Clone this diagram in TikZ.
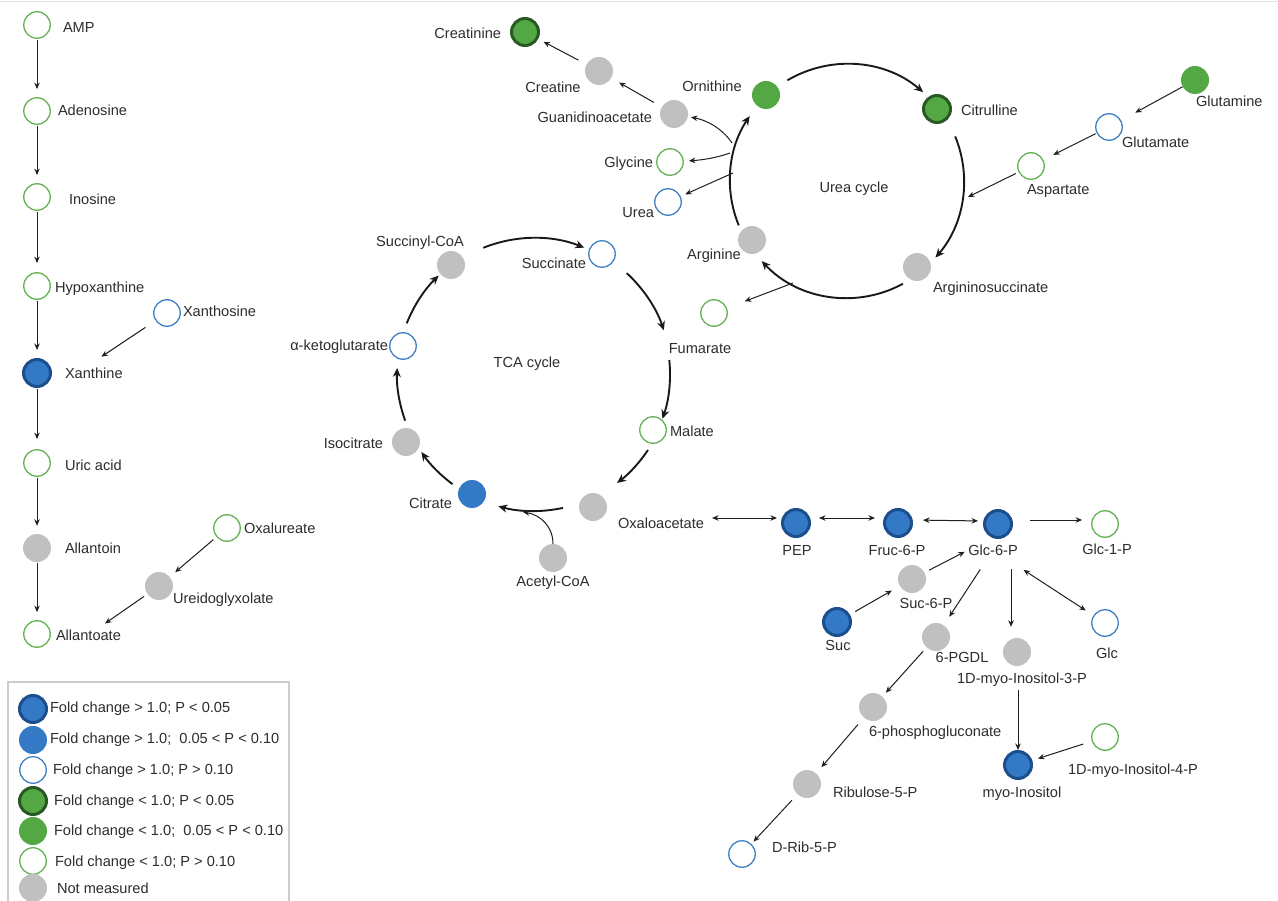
\documentclass[tikz,border=0pt]{standalone}
\usepackage{fontspec}
\setmainfont{Liberation Sans}
\usetikzlibrary{arrows.meta,calc}
\definecolor{dkblue}{RGB}{27,78,140}
\definecolor{mblue}{RGB}{52,121,198}
\definecolor{lblue}{RGB}{62,128,194}
\definecolor{dkgreen}{RGB}{42,88,36}
\definecolor{mgreen}{RGB}{84,168,68}
\definecolor{lgreen}{RGB}{98,178,82}
\definecolor{nmgray}{RGB}{192,192,192}
\definecolor{txt}{RGB}{45,45,45}
\definecolor{legbox}{RGB}{204,204,204}
\begin{document}
\begin{tikzpicture}[x=1pt,y=1pt,
  met/.style={circle,inner sep=0pt},
  upS/.style={met,draw=dkblue,fill=mblue,line width=3pt,minimum size=27pt},
  upM/.style={met,fill=mblue,minimum size=28pt},
  upN/.style={met,draw=lblue,fill=white,line width=1.3pt,minimum size=26.5pt},
  dnS/.style={met,draw=dkgreen,fill=mgreen,line width=3pt,minimum size=27pt},
  dnM/.style={met,fill=mgreen,minimum size=28pt},
  dnN/.style={met,draw=lgreen,fill=white,line width=1.3pt,minimum size=26.5pt},
  nm/.style={met,fill=nmgray,minimum size=28pt},
  lbl/.style={text=txt,font=\fontsize{14.6}{17}\selectfont,inner sep=0pt,outer sep=0pt,text height=10.4pt,text depth=0pt},
  arr/.style={draw=black!88,line width=1pt,-{Stealth[length=6.5pt,width=5.5pt]}},
  darr/.style={draw=black!88,line width=1pt,{Stealth[length=6.5pt,width=5.5pt]}-{Stealth[length=6.5pt,width=5.5pt]}},
  cyc/.style={draw=black!90,line width=1.9pt,-{Stealth[length=9pt,width=8pt]}},
]
\useasboundingbox (0,0) rectangle (1278,-901);
\fill[white] (0,0) rectangle (1278,-901);
\draw[black!12,line width=1.5pt] (0,-1.5) -- (1278,-1.5);

% ---------- left column ----------
\node[dnN] (amp) at (37,-25) {};
\node[lbl,anchor=west] (ampL) at (63,-27) {AMP};
\node[dnN] (ade) at (37,-111) {};
\node[lbl,anchor=west] (adeL) at (58,-110) {Adenosine};
\node[dnN] (ino) at (37,-197) {};
\node[lbl,anchor=west] (inoL) at (69,-199) {Inosine};
\node[dnN] (hyp) at (37,-286) {};
\node[lbl,anchor=west] (hypL) at (55,-287) {Hypoxanthine};
\node[upN] (xao) at (167,-313) {};
\node[lbl,anchor=west] (xaoL) at (183,-311) {Xanthosine};
\node[upS] (xan) at (37,-373) {};
\node[lbl,anchor=west] (xanL) at (65,-373) {Xanthine};
\node[dnN] (uric) at (37,-463) {};
\node[lbl,anchor=west] (uricL) at (65,-465) {Uric acid};
\node[nm] (aln) at (37,-548) {};
\node[lbl,anchor=west] (alnL) at (65,-548) {Allantoin};
\node[dnN] (oxu) at (227,-528) {};
\node[lbl,anchor=west] (oxuL) at (244,-528) {Oxalureate};
\node[nm] (ure) at (159,-586) {};
\node[lbl,anchor=west] (ureL) at (173,-598) {Ureidoglyxolate};
\node[dnN] (alt) at (37,-634) {};
\node[lbl,anchor=west] (altL) at (56,-635) {Allantoate};

\draw[arr,shorten <=1pt,shorten >=8pt] (amp) -- (ade);
\draw[arr,shorten <=1pt,shorten >=8pt] (ade) -- (ino);
\draw[arr,shorten <=1pt,shorten >=9pt] (ino) -- (hyp);
\draw[arr,shorten <=1pt,shorten >=8pt] (hyp) -- (xan);
\draw[arr,shorten <=1pt,shorten >=10pt] (xan) -- (uric);
\draw[arr,shorten <=1pt,shorten >=8pt] (uric) -- (aln);
\draw[arr,shorten <=1pt,shorten >=8pt] (aln) -- (alt);
\draw[arr,shorten <=12pt,shorten >=20pt] (xao) -- (xanL.150);
\draw[arr,shorten <=4pt,shorten >=7pt] (oxu) -- (ure);
\draw[arr,shorten <=4pt,shorten >=11pt] (ure) -- (altL);

% ---------- TCA cycle ----------
\coordinate (tca) at (534,-374);
\node[nm] (sca) at (451,-265) {};
\node[lbl] (scaL) at (420,-241) {Succinyl-CoA};
\node[upN] (suc) at (602,-254) {};
\node[lbl,anchor=east] (sucL) at (586,-263) {Succinate};
\node[dnN] (fum) at (714,-313) {};
\node[lbl] (fumL) at (700,-348) {Fumarate};
\node[dnN] (mal) at (653,-430) {};
\node[lbl,anchor=west] (malL) at (670,-431) {Malate};
\node[nm] (oxa) at (593,-507) {};
\node[lbl,anchor=west] (oxaL) at (618,-523) {Oxaloacetate};
\node[nm] (acc) at (553,-558) {};
\node[lbl] (accL) at (553,-581) {Acetyl-CoA};
\node[upM] (cit) at (472,-494) {};
\node[lbl,anchor=east] (citL) at (452,-503) {Citrate};
\node[nm] (ici) at (406,-442) {};
\node[lbl,anchor=east] (iciL) at (383,-443) {Isocitrate};
\node[upN] (akg) at (403,-346) {};
\node[lbl,anchor=east] (akgL) at (388,-345) {α-ketoglutarate};
\node[lbl] (tcaL) at (527,-362) {TCA cycle};

\draw[cyc] ($(tca)+(111.9:136)$) arc[start angle=111.9,end angle=68.3,radius=136];
\draw[cyc] ($(tca)+(47.4:137)$) arc[start angle=47.4,end angle=18.6,radius=137];
\draw[cyc] ($(tca)+(5.9:136)$) arc[start angle=5.9,end angle=-19.2,radius=136];
\draw[cyc] ($(tca)+(-33.7:137)$) arc[start angle=-33.7,end angle=-52.7,radius=137];
\draw[cyc] ($(tca)+(-77.8:137)$) arc[start angle=-77.8,end angle=-105.1,radius=137];
\draw[cyc] ($(tca)+(-126.5:137)$) arc[start angle=-126.5,end angle=-145.3,radius=137];
\draw[cyc] ($(tca)+(199.9:137)$) arc[start angle=199.9,end angle=177.5,radius=137];
\draw[cyc] ($(tca)+(158.3:137)$) arc[start angle=158.3,end angle=134.1,radius=137];
\coordinate (accT) at (523,-512);
\draw[arr] (acc) .. controls (553,-527) and (541,-515) .. (accT);

% ---------- Urea cycle ----------
\coordinate (uc) at (847,-181);
\node[dnM] (orn) at (766,-95) {};
\node[lbl] (ornL) at (712,-86) {Ornithine};
\node[dnS] (ctl) at (937,-109) {};
\node[lbl,anchor=west] (ctlL) at (961,-110) {Citrulline};
\node[nm] (asu) at (917,-267) {};
\node[lbl,anchor=west] (asuL) at (933,-287) {Argininosuccinate};
\node[nm] (arg) at (752,-240) {};
\node[lbl] (argL) at (714,-254) {Arginine};
\node[lbl] (ucL) at (854,-187) {Urea cycle};
\node[dnM] (gln) at (1195,-80) {};
\node[lbl,anchor=west] (glnL) at (1196,-101) {Glutamine};
\node[upN] (glu) at (1109,-127) {};
\node[lbl,anchor=west] (gluL) at (1122,-142) {Glutamate};
\node[dnN] (asp) at (1031,-166) {};
\node[lbl,anchor=west] (aspL) at (1027,-189) {Aspartate};
\node[nm] (gaa) at (674,-114) {};
\node[lbl,anchor=east] (gaaL) at (652,-117) {Guanidinoacetate};
\node[nm] (cre) at (599,-71) {};
\node[lbl] (creL) at (553,-87) {Creatine};
\node[dnS] (crn) at (525,-32) {};
\node[lbl,anchor=east] (crnL) at (501,-33) {Creatinine};
\node[dnN] (gly) at (670,-162) {};
\node[lbl,anchor=east] (glyL) at (653,-162) {Glycine};
\node[upN] (urea) at (668,-202) {};
\node[lbl,anchor=east] (ureaL) at (654,-212) {Urea};

\draw[cyc] ($(uc)+(120.6:117)$) arc[start angle=120.6,end angle=49.4,radius=117];
\draw[cyc] ($(uc)+(22.4:117)$) arc[start angle=22.4,end angle=-40.9,radius=117];
\draw[cyc] ($(uc)+(-61.5:117)$) arc[start angle=-61.5,end angle=-136.8,radius=117];
\draw[cyc] ($(uc)+(202.3:117)$) arc[start angle=202.3,end angle=146.3,radius=117];

\coordinate (ubG) at (732,-143);
\coordinate (ubY) at (730,-153);
\coordinate (ubU) at (733,-173);
\coordinate (ubF) at (793,-283);
\coordinate (ubA) at (968,-197);
\draw[arr,shorten >=3pt] (ubG) .. controls (722,-128) and (706,-120) .. (gaa);
\draw[arr,shorten >=5pt] (ubY) .. controls (716,-158) and (702,-160) .. (gly);
\draw[arr,shorten >=5pt] (ubU) -- (urea);
\draw[arr,shorten >=19pt] (ubF) -- (fum);
\draw[arr,shorten <=3pt] (asp) -- (ubA);
\draw[arr,shorten <=1pt,shorten >=11pt] (glu) -- (asp);
\draw[arr,shorten <=0pt,shorten >=16pt] (gln) -- (glu);
\draw[arr,shorten <=9pt,shorten >=9pt] (gaa) -- (cre);
\draw[arr,shorten <=9pt,shorten >=6pt] (cre) -- (crn);

% ---------- lower right ----------
\node[upS] (pep) at (796,-523) {};
\node[lbl] (pepL) at (797,-550) {PEP};
\node[upS] (f6p) at (898,-523) {};
\node[lbl] (f6pL) at (897,-550) {Fruc-6-P};
\node[upS] (g6p) at (998,-524) {};
\node[lbl] (g6pL) at (993,-550) {Glc-6-P};
\node[dnN] (g1p) at (1105,-524) {};
\node[lbl] (g1pL) at (1107,-549) {Glc-1-P};
\node[nm] (s6p) at (912,-579) {};
\node[lbl] (s6pL) at (926,-603) {Suc-6-P};
\node[upS] (sucr) at (837,-622) {};
\node[lbl] (sucrL) at (838,-645) {Suc};
\node[nm] (pgdl) at (936,-637) {};
\node[lbl] (pgdlL) at (962,-657) {6-PGDL};
\node[nm] (i3p) at (1017,-652) {};
\node[lbl] (i3pL) at (1022,-678) {1D-myo-Inositol-3-P};
\node[upN] (glc) at (1105,-623) {};
\node[lbl] (glcL) at (1107,-653) {Glc};
\node[nm] (pg) at (873,-707) {};
\node[lbl,anchor=west] (pgL) at (869,-731) {6-phosphogluconate};
\node[nm] (ru5p) at (807,-784) {};
\node[lbl,anchor=west] (ru5pL) at (833,-792) {Ribulose-5-P};
\node[upN] (r5p) at (742,-854) {};
\node[lbl,anchor=west] (r5pL) at (772,-847) {D-Rib-5-P};
\node[upS] (myo) at (1018,-765) {};
\node[lbl] (myoL) at (1022,-792) {myo-Inositol};
\node[dnN] (i4p) at (1105,-737) {};
\node[lbl] (i4pL) at (1133,-769) {1D-myo-Inositol-4-P};

\draw[darr,shorten <=8pt,shorten >=4pt] ([yshift=5pt]oxaL.east) -- ([yshift=5pt]pep.west);
\draw[darr,shorten <=8pt,shorten >=8pt] ([yshift=5pt]pep.east) -- ([yshift=5pt]f6p.west);
\draw[darr,shorten <=10pt,shorten >=5pt] ([yshift=3pt]f6p.east) -- ([yshift=3pt]g6p.west);
\draw[arr,shorten <=17pt,shorten >=9pt] ([yshift=4pt]g6p.east) -- ([yshift=4pt]g1p.west);
\draw[arr,shorten <=5pt,shorten >=4pt] (s6p) -- (g6pL.west);
\draw[arr,shorten <=6pt,shorten >=9pt] (sucr) -- (s6p);
\draw[arr,shorten <=17pt,shorten >=10pt] (g6pL) -- (pgdl);
\draw[arr,shorten <=14pt,shorten >=11pt] ([xshift=-6pt]g6pL.south -| i3p.north) -- ([xshift=-6pt]i3p.north);
\draw[darr,shorten <=27pt,shorten >=9pt] (g6pL) -- (glc);
\draw[arr,shorten <=5pt,shorten >=5pt] (pgdl) -- (pg);
\draw[arr,shorten <=9pt,shorten >=8pt] (pg) -- (ru5p);
\draw[arr,shorten <=8pt,shorten >=3pt] (ru5p) -- (r5p);
\draw[arr,shorten <=7pt,shorten >=0pt] (i3pL.south -| myo.north) -- (myo.north);
\draw[arr,shorten <=9pt,shorten >=6pt] (i4p) -- (myo);

% ---------- legend ----------
\draw[legbox,line width=2pt] (8,-682) rectangle (289,-912);
\node[upS] (lg1) at (33,-709) {};
\node[lbl,anchor=west] (lg1L) at (50,-707) {Fold change > 1.0; P < 0.05};
\node[upM] (lg2) at (33,-740) {};
\node[lbl,anchor=west] (lg2L) at (50,-738) {Fold change > 1.0; \ 0.05 < P < 0.10};
\node[upN] (lg3) at (33,-770) {};
\node[lbl,anchor=west] (lg3L) at (53,-769) {Fold change > 1.0; P > 0.10};
\node[dnS] (lg4) at (33,-801) {};
\node[lbl,anchor=west] (lg4L) at (54,-800) {Fold change < 1.0; P < 0.05};
\node[dnM] (lg5) at (33,-831) {};
\node[lbl,anchor=west] (lg5L) at (54,-830) {Fold change < 1.0; \ 0.05 < P < 0.10};
\node[dnN] (lg6) at (33,-861) {};
\node[lbl,anchor=west] (lg6L) at (55,-861) {Fold change < 1.0; P > 0.10};
\node[nm] (lg7) at (33,-888) {};
\node[lbl,anchor=west] (lg7L) at (57,-888) {Not measured};
\end{tikzpicture}
\end{document}
